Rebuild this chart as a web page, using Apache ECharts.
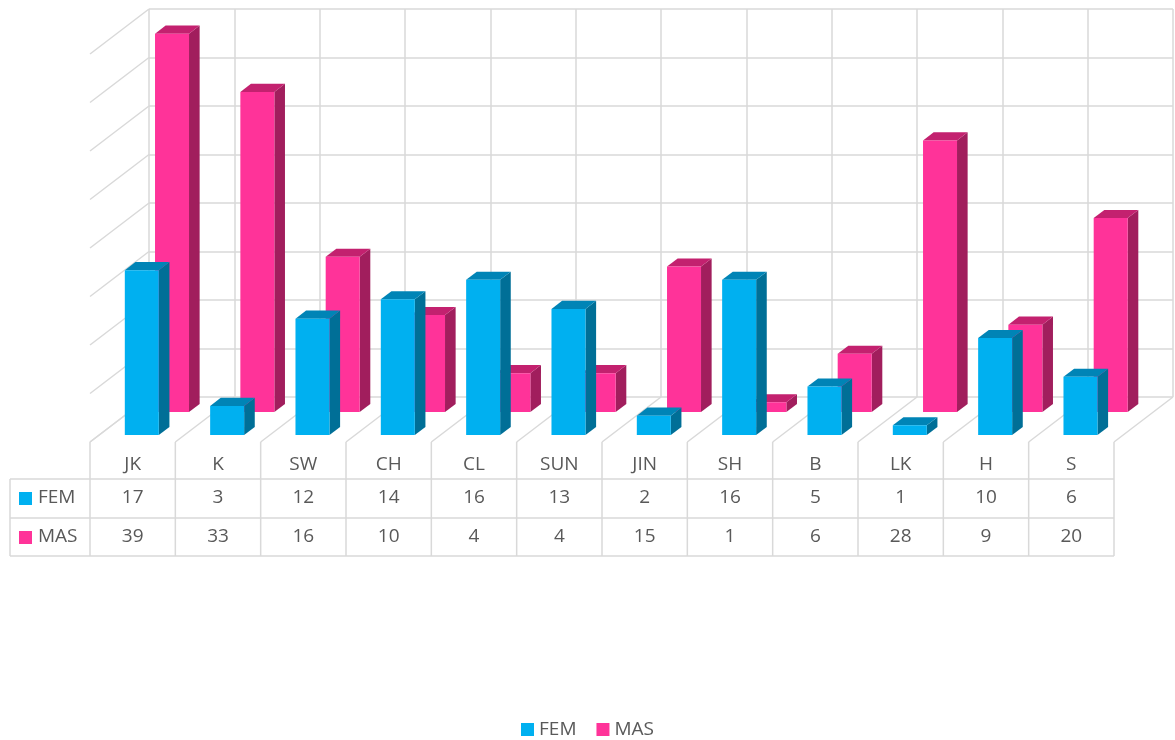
<!DOCTYPE html>
<html>
<head>
<meta charset="utf-8">
<script src="https://cdn.jsdelivr.net/npm/echarts@6/dist/echarts.min.js"></script>
<style>
  html, body { margin: 0; padding: 0; background: #fff; }
  #chart { width: 1175px; height: 740px; }
</style>
</head>
<body>
<div id="chart"></div>
<script>
const categories = ["JK", "K", "SW", "CH", "CL", "SUN", "JIN", "SH", "B", "LK", "H", "S"];
const femValues = [17, 3, 12, 14, 16, 13, 2, 16, 5, 1, 10, 6];
const masValues = [39, 33, 16, 10, 4, 4, 15, 1, 6, 28, 9, 20];
const yTicks = [0, 5, 10, 15, 20, 25, 30, 35, 40];

// oblique depth of the floor (back wall -> front edge)
const DX = 59;
const DY = 45;
const GRID_COLOR = "#D9D9D9";
const TEXT_COLOR = "#595959";
const FONT = '19px "Open Sans", sans-serif';

const FEM = { front: "#00B0F0", top: "#0084B6", side: "#006F97" };
const MAS = { front: "#FF3399", top: "#C3216F", side: "#A11E5D" };

const chart = echarts.init(document.getElementById("chart"));

const line = (x1, y1, x2, y2) => ({
  type: "line",
  shape: { x1, y1, x2, y2 },
  style: { stroke: GRID_COLOR, lineWidth: 1.5 },
});

const text = (t, x, y, align) => ({
  type: "text",
  style: {
    text: t, x, y,
    align: align || "center",
    verticalAlign: "middle",
    fill: TEXT_COLOR,
    font: FONT,
  },
});

// bar placed at depth d (0 = front edge of floor, 1 = back wall)
function barRender(d, thick, col) {
  return function (params, api) {
    const i = api.value(0);
    const v = api.value(1);
    const base = api.coord([i, 0]);
    const top = api.coord([i, v]);
    const ox = -(1 - d) * DX;
    const oy = (1 - d) * DY;
    const cx = base[0] + ox;
    const yb = base[1] + oy;
    const yt = top[1] + oy;
    const hw = 17;
    const ddx = thick * DX;
    const ddy = thick * DY;
    return {
      type: "group",
      children: [
        {
          type: "polygon",
          shape: { points: [[cx + hw, yt], [cx + hw + ddx, yt - ddy], [cx + hw + ddx, yb - ddy], [cx + hw, yb]] },
          style: { fill: col.side },
        },
        {
          type: "polygon",
          shape: { points: [[cx - hw, yt], [cx - hw + ddx, yt - ddy], [cx + hw + ddx, yt - ddy], [cx + hw, yt]] },
          style: { fill: col.top },
        },
        {
          type: "rect",
          shape: { x: cx - hw, y: yt, width: hw * 2, height: yb - yt },
          style: { fill: col.front },
        },
      ],
    };
  };
}

function sideWallRender(params, api) {
  const cs = params.coordSys;
  const p = api.coord([0, api.value(1)]);
  return line(cs.x, p[1], cs.x - DX, p[1] + DY);
}

function tableRender(params, api) {
  const cs = params.coordSys;
  const i = api.value(0);
  const n = categories.length;
  const colW = cs.width / n;
  const floorY = cs.y + cs.height;
  const fy = floorY + DY;
  const r1 = fy + 37;
  const r2 = fy + 76;
  const r3 = fy + 114;
  const xb = cs.x + i * colW;
  const xf = xb - DX;
  const cx = xf + colW / 2;
  const children = [
    line(xb, floorY, xf, fy),
    line(xf, fy, xf, r3),
    text(categories[i], cx, fy + 23),
    text(String(api.value(1)), cx, r1 + 19),
    text(String(api.value(2)), cx, r2 + 19),
  ];
  if (i === n - 1) {
    children.push(line(xb + colW, floorY, xf + colW, fy));
    children.push(line(xf + colW, fy, xf + colW, r3));
  }
  if (i === 0) {
    const right = cs.x + cs.width - DX;
    const left = 10;
    children.push(line(left, r1, right, r1));
    children.push(line(left, r2, right, r2));
    children.push(line(left, r3, right, r3));
    children.push(line(left, r1, left, r3));
    children.push({ type: "rect", shape: { x: 19, y: r1 + 13, width: 13, height: 13 }, style: { fill: FEM.front } });
    children.push({ type: "rect", shape: { x: 19, y: r2 + 13, width: 13, height: 13 }, style: { fill: MAS.front } });
    children.push(text("FEM", 38, r1 + 19, "left"));
    children.push(text("MAS", 38, r2 + 19, "left"));
  }
  return { type: "group", children };
}

const option = {
  animation: false,
  grid: { left: 149, top: 9, width: 1024, height: 388 },
  legend: {
    data: ["FEM", "MAS"],
    top: 715,
    left: "center",
    icon: "rect",
    itemWidth: 13,
    itemHeight: 13,
    itemGap: 20,
    textStyle: { color: TEXT_COLOR, fontSize: 19, fontFamily: "Open Sans" },
  },
  xAxis: {
    type: "category",
    data: categories,
    boundaryGap: true,
    axisLine: { show: false },
    axisTick: { show: false },
    axisLabel: { show: false },
    splitLine: { show: true, interval: 0, lineStyle: { color: GRID_COLOR, width: 1.5 } },
  },
  yAxis: {
    type: "value",
    min: 0,
    max: 40,
    interval: 5,
    axisLine: { show: false },
    axisTick: { show: false },
    axisLabel: { show: false },
    splitLine: { show: true, lineStyle: { color: GRID_COLOR, width: 1.5 } },
  },
  series: [
    {
      type: "custom",
      silent: true,
      renderItem: sideWallRender,
      data: yTicks.map((v) => [0, v]),
    },
    {
      type: "custom",
      silent: true,
      renderItem: tableRender,
      data: categories.map((c, i) => [i, femValues[i], masValues[i]]),
    },
    {
      name: "MAS",
      type: "custom",
      itemStyle: { color: MAS.front },
      renderItem: barRender(0.667, 0.18, MAS),
      data: masValues.map((v, i) => [i, v]),
    },
    {
      name: "FEM",
      type: "custom",
      itemStyle: { color: FEM.front },
      renderItem: barRender(0.155, 0.18, FEM),
      data: femValues.map((v, i) => [i, v]),
    },
  ],
};

chart.setOption(option);
</script>
</body>
</html>
